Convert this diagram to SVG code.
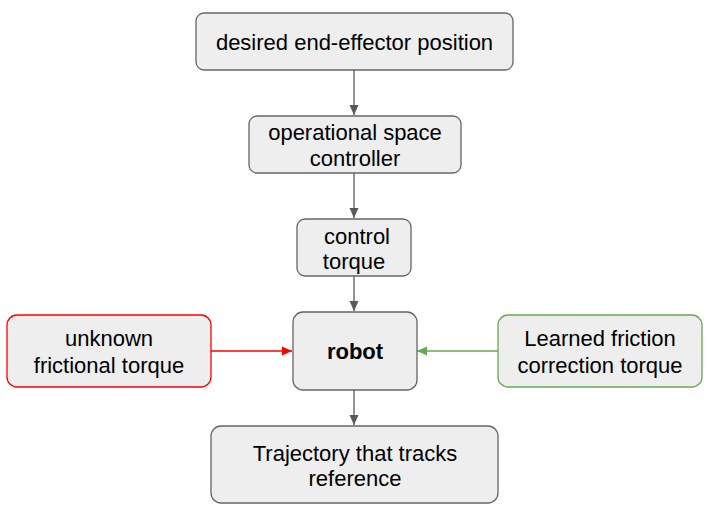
<svg xmlns="http://www.w3.org/2000/svg" width="708" height="514" viewBox="0 0 708 514">
<defs>
<style>
.box{fill:#eeeeee;stroke:#666666;stroke-width:1.3}
.red{stroke:#ff0000}
.green{stroke:#6aa84f}
text{font-family:"Liberation Sans",Arial,sans-serif;font-size:22px;fill:#000;text-anchor:middle}
.b{font-weight:bold}
.c{fill:none;stroke:#595959;stroke-width:1.3}
</style>
<marker id="ag" viewBox="0 0 10 10" refX="10" refY="5" markerWidth="10" markerHeight="10" markerUnits="userSpaceOnUse" orient="auto"><path d="M0,0.5 L10,5 L0,9.5z" fill="#595959"/></marker>
<marker id="ar" viewBox="0 0 10 10" refX="10" refY="5" markerWidth="10" markerHeight="10" markerUnits="userSpaceOnUse" orient="auto"><path d="M0,0.5 L10,5 L0,9.5z" fill="#ff0000"/></marker>
<marker id="agr" viewBox="0 0 10 10" refX="10" refY="5" markerWidth="10" markerHeight="10" markerUnits="userSpaceOnUse" orient="auto"><path d="M0,0.5 L10,5 L0,9.5z" fill="#6aa84f"/></marker>
</defs>
<g id="connectors">
<line class="c" x1="354" y1="70" x2="354" y2="115" marker-end="url(#ag)"/>
<line class="c" x1="354" y1="173" x2="354" y2="218" marker-end="url(#ag)"/>
<line class="c" x1="354" y1="276" x2="354" y2="311" marker-end="url(#ag)"/>
<line class="c" x1="354" y1="390" x2="354" y2="425" marker-end="url(#ag)"/>
<line class="c" style="stroke:#ff0000" x1="211" y1="351" x2="292" y2="351" marker-end="url(#ar)"/>
<line class="c" style="stroke:#6aa84f" x1="498" y1="351" x2="417" y2="351" marker-end="url(#agr)"/>
</g>
<g id="n-desired">
<rect class="box" x="196" y="13" width="317" height="57" rx="8"/>
<text x="354.5" y="50">desired end-effector position</text>
</g>
<g id="n-osc">
<rect class="box" x="249" y="116" width="212" height="57" rx="8"/>
<text x="355" y="140">operational space</text>
<text x="355" y="166">controller</text>
</g>
<g id="n-torque">
<rect class="box" x="297" y="219" width="114" height="57" rx="8"/>
<text x="357" y="244">control</text>
<text x="354" y="269">torque</text>
</g>
<g id="n-robot">
<rect class="box" x="293" y="312" width="124" height="78" rx="10"/>
<text class="b" x="355" y="359">robot</text>
</g>
<g id="n-unknown">
<rect class="box red" x="7" y="315" width="204" height="72" rx="10"/>
<text x="109" y="346">unknown</text>
<text x="109" y="373">frictional torque</text>
</g>
<g id="n-learned">
<rect class="box green" x="498" y="315" width="204" height="72" rx="10"/>
<text x="600" y="346">Learned friction</text>
<text x="600" y="373">correction torque</text>
</g>
<g id="n-trajectory">
<rect class="box" x="211" y="426" width="287" height="77" rx="10"/>
<text x="355" y="461">Trajectory that tracks</text>
<text x="355" y="486">reference</text>
</g>
</svg>
